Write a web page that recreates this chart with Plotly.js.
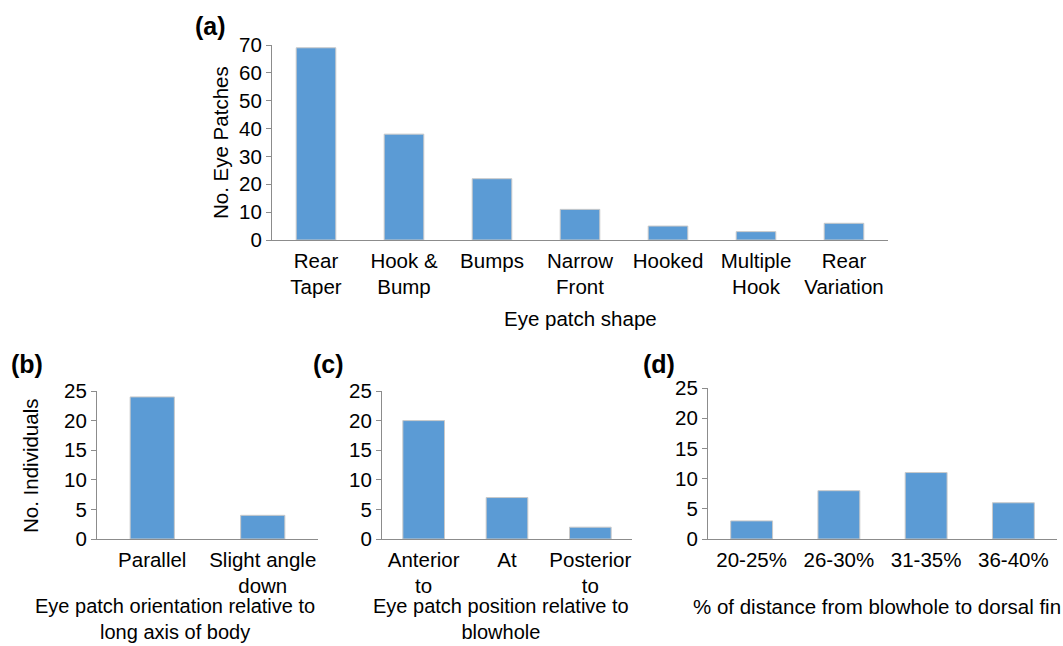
<!DOCTYPE html>
<html>
<head>
<meta charset="utf-8">
<script src="https://cdn.plot.ly/plotly-3.0.1.min.js"></script>
<style>html,body{margin:0;padding:0;background:#fff;}#chart{width:1063px;height:646px;}</style>
</head>
<body>
<div id="chart"></div>
<script>
// ---- data ----
const shapeCats = ['Rear<br>Taper', 'Hook &<br>Bump', 'Bumps', 'Narrow<br>Front', 'Hooked', 'Multiple<br>Hook', 'Rear<br>Variation'];
const shapeCounts = [69, 38, 22, 11, 5, 3, 6];

const orientCats = ['Parallel', 'Slight angle<br>down'];
const orientCounts = [24, 4];

const positionCats = ['Anterior<br>to', 'At', 'Posterior<br>to'];
const positionCounts = [20, 7, 2];

const distanceCats = ['20-25%', '26-30%', '31-35%', '36-40%'];
const distanceCounts = [3, 8, 11, 6];

const yTicksA = [0, 10, 20, 30, 40, 50, 60, 70];
const yTicksB = [0, 5, 10, 15, 20, 25];

// ---- style ----
const W = 1063, H = 646;
const px = x => x / W;
const py = y => 1 - y / H;
const barColor = '#5B9BD5';
const barLine = {color: '#c9c9c9', width: 1};
const axisColor = '#8c8c8c';
const fontFam = 'Liberation Sans, Arial, sans-serif';
const FS = 20.5;
const tickFont = {family: fontFam, size: FS, color: '#000'};

function bar(x, y, xa, ya, w) {
  return {type: 'bar', x: x, y: y, xaxis: xa, yaxis: ya, width: w,
    marker: {color: barColor, line: barLine}, hoverinfo: 'x+y', showlegend: false};
}

const traces = [
  bar(shapeCats, shapeCounts, 'x', 'y', 0.45),
  bar(orientCats, orientCounts, 'x2', 'y2', 0.4),
  bar(positionCats, positionCounts, 'x3', 'y3', 0.5),
  bar(distanceCats, distanceCounts, 'x4', 'y4', 0.48)
];

function xax(domain, anchor) {
  return {domain: domain, anchor: anchor, type: 'category', showline: true, linecolor: axisColor,
    linewidth: 1, ticks: '', ticklabelstandoff: 2, showgrid: false, zeroline: false,
    tickfont: tickFont, fixedrange: true};
}
function yax(domain, anchor, range, tv) {
  return {domain: domain, anchor: anchor, range: range, tickvals: tv, showline: true,
    linecolor: axisColor, linewidth: 1, ticks: 'outside', ticklen: 5, tickcolor: axisColor,
    showgrid: false, zeroline: false, tickfont: tickFont, fixedrange: true};
}

function ann(text, x, y, opts) {
  return Object.assign({text: text, x: px(x), y: py(y), xref: 'paper', yref: 'paper',
    showarrow: false, xanchor: 'center', yanchor: 'middle',
    font: {family: fontFam, size: FS, color: '#000'}}, opts || {});
}
const bold = {family: fontFam, size: 25, color: '#000'};
const titleFont2 = {family: fontFam, size: 20, color: '#000'};

const layout = {
  width: W, height: H,
  margin: {l: 0, r: 0, t: 0, b: 0},
  paper_bgcolor: '#fff', plot_bgcolor: '#fff',
  bargap: 0.5,
  xaxis: xax([px(272), px(888)], 'y'),
  yaxis: yax([py(240), py(45)], 'x', [0, 70], yTicksA),
  xaxis2: xax([px(97), px(318)], 'y2'),
  yaxis2: yax([py(539), py(391)], 'x2', [0, 25], yTicksB),
  xaxis3: xax([px(382), px(632)], 'y3'),
  yaxis3: yax([py(539), py(391)], 'x3', [0, 25], yTicksB),
  xaxis4: xax([px(708), px(1057)], 'y4'),
  yaxis4: yax([py(539), py(388)], 'x4', [0, 25], yTicksB),
  annotations: [
    ann('<b>(a)</b>', 210, 26, {font: bold}),
    ann('<b>(b)</b>', 27, 364, {font: bold}),
    ann('<b>(c)</b>', 328, 364, {font: bold}),
    ann('<b>(d)</b>', 659, 364, {font: bold}),
    ann('No. Eye Patches', 220, 143, {textangle: -90}),
    ann('No. Individuals', 30, 466, {textangle: -90}),
    ann('Eye patch shape', 580, 319),
    ann('Eye patch orientation relative to<br>long axis of body', 175, 619, {font: titleFont2}),
    ann('Eye patch position relative to<br>blowhole', 501, 619, {font: titleFont2}),
    ann('% of distance from blowhole to dorsal fin', 877, 606)
  ]
};

Plotly.newPlot('chart', traces, layout, {displayModeBar: false, staticPlot: true});
</script>
</body>
</html>
